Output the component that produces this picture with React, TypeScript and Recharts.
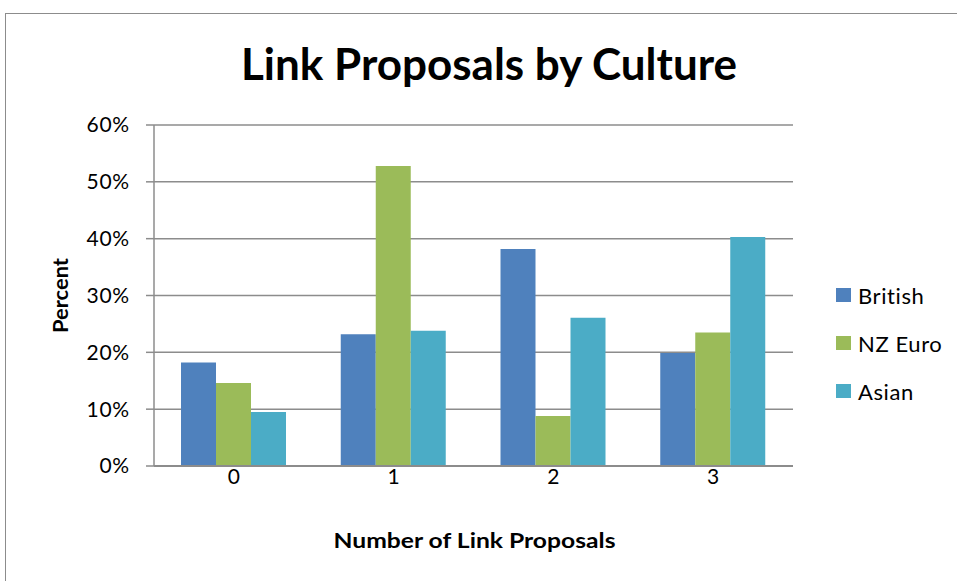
import React from 'react';
import { BarChart, Bar, XAxis, YAxis, CartesianGrid, Legend } from 'recharts';

// values, in percent
const categories = ['0', '1', '2', '3'];
const british = [18.2, 23.2, 38.2, 19.9];
const nzEuro = [14.6, 52.8, 8.8, 23.5];
const asian = [9.5, 23.8, 26.1, 40.3];
const yTicks = [0, 10, 20, 30, 40, 50, 60];

const seriesList = [
  { key: 'british', name: 'British', color: '#4F81BD' },
  { key: 'nzEuro', name: 'NZ Euro', color: '#9BBB59' },
  { key: 'asian', name: 'Asian', color: '#4BACC6' }
];

const data = categories.map((c, i) => ({
  category: c,
  british: british[i],
  nzEuro: nzEuro[i],
  asian: asian[i]
}));

const FONT = 'Lato, "Open Sans", sans-serif';

const renderLegend = (props: any) => {
  const order = seriesList.map(s => s.name);
  const items = [...(props.payload || [])].sort(
    (a: any, b: any) => order.indexOf(a.value) - order.indexOf(b.value)
  );
  return (
    <div style={{ fontFamily: FONT, fontSize: 22, letterSpacing: 0.6, color: '#000' }}>
      {items.map((entry: any) => (
        <div key={entry.value} style={{ display: 'flex', alignItems: 'center', height: 48 }}>
          <span style={{ display: 'inline-block', width: 15, height: 14, background: entry.color, marginRight: 7 }} />
          <span>{entry.value}</span>
        </div>
      ))}
    </div>
  );
};

export default function App() {
  return (
    <div style={{ position: 'absolute', left: 0, top: 0, width: 957, height: 581, overflow: 'hidden', background: '#fff' }}>
      <svg width={957} height={581} style={{ position: 'absolute', left: 0, top: 0 }}>
        <rect x={5.5} y={13.5} width={1000} height={1000} fill="#fff" stroke="#8c8c8c" strokeWidth={1} />
        <text x={489} y={80} textAnchor="middle" fontFamily={FONT} fontWeight={700} fontSize={44} fill="#000">
          Link Proposals by Culture
        </text>
      </svg>
      <div style={{ position: 'absolute', left: 0, top: 0 }}>
        <BarChart
          width={957}
          height={581}
          data={data}
          margin={{ top: 125, right: 164, bottom: 85, left: 0 }}
          barCategoryGap={27}
          barGap={0}
        >
          <CartesianGrid vertical={false} stroke="#8c8c8c" strokeWidth={1.5} />
          <XAxis
            dataKey="category"
            height={30}
            axisLine={{ stroke: '#8c8c8c', strokeWidth: 2 }}
            tickLine={false}
            tickSize={0}
            tickMargin={3}
            tick={{ fontFamily: FONT, fontSize: 21, fill: '#000' }}
            label={{
              content: (p: any) => {
                const vb = p.viewBox;
                return (
                  <text x={vb.x + vb.width / 2 + 1} y={vb.y + 82} textAnchor="middle" textLength={282} lengthAdjust="spacingAndGlyphs" fontFamily={FONT} fontWeight={700} fontSize={20} fill="#000">
                    Number of Link Proposals
                  </text>
                );
              }
            }}
          />
          <YAxis
            width={154}
            domain={[0, 60]}
            ticks={yTicks}
            interval={0}
            tickFormatter={(v: number) => `${v}%`}
            axisLine={{ stroke: '#8c8c8c', strokeWidth: 1.5 }}
            tickLine={{ stroke: '#8c8c8c', strokeWidth: 1.5 }}
            tickSize={8}
            tickMargin={16}
            tick={{ fontFamily: FONT, fontSize: 21, fill: '#000', letterSpacing: 0.8 }}
            label={{
              content: (p: any) => {
                const vb = p.viewBox;
                const cx = 60;
                const cy = vb.y + vb.height / 2;
                return (
                  <text x={cx} y={cy} transform={`rotate(-90 ${cx} ${cy})`} textAnchor="middle" dominantBaseline="central" textLength={75} lengthAdjust="spacingAndGlyphs" fontFamily={FONT} fontWeight={700} fontSize={20} fill="#000">
                    Percent
                  </text>
                );
              }
            }}
          />
          <Legend
            layout="horizontal"
            verticalAlign="middle"
            align="center"
            content={renderLegend}
            wrapperStyle={{ left: 836, top: 271, width: 120 }}
          />
          {seriesList.map(s => (
            <Bar key={s.key} dataKey={s.key} name={s.name} fill={s.color} isAnimationActive={false} />
          ))}
        </BarChart>
      </div>
    </div>
  );
}
